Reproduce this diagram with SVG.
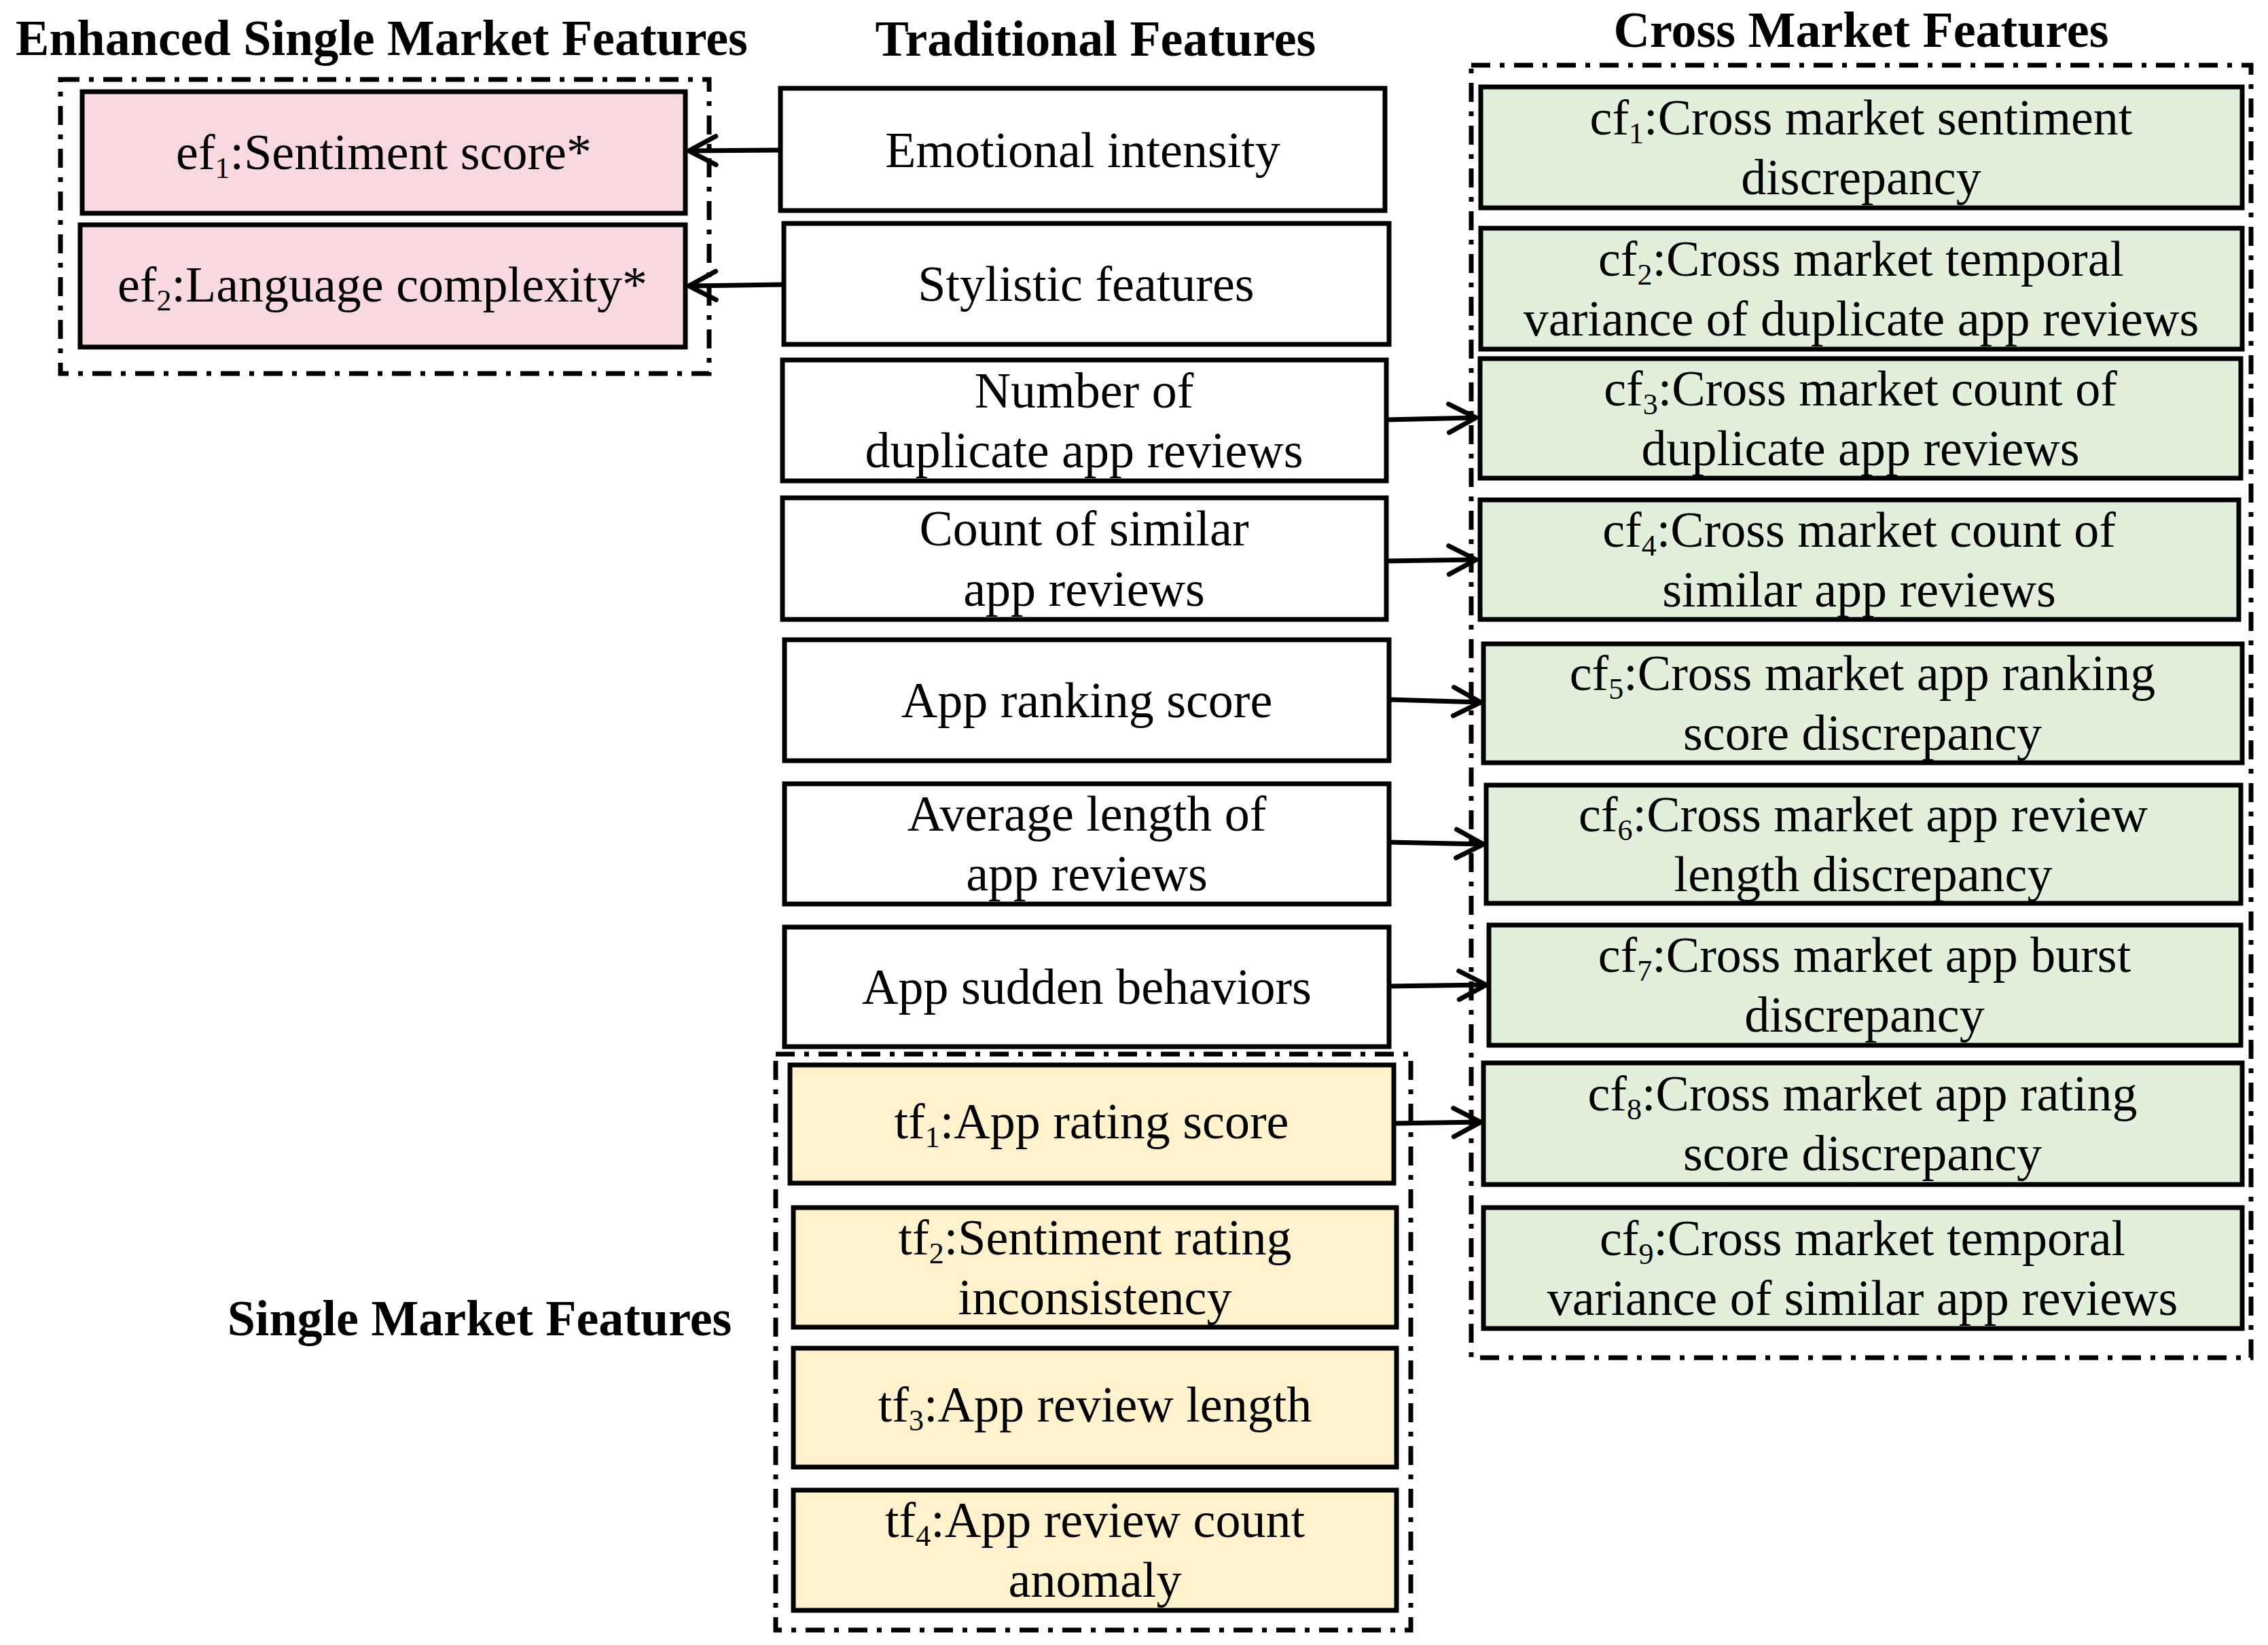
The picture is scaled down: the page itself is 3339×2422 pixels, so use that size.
<svg xmlns="http://www.w3.org/2000/svg" width="3339" height="2422" viewBox="0 0 3339 2422">
<style>
text{font-family:"Liberation Serif","Times New Roman",serif;font-size:74px;fill:#000;text-anchor:middle}
.title{font-weight:bold}
.box{stroke:#000;stroke-width:7}
.plain{fill:#fff}
.pink{fill:#F7D9DF}
.green{fill:#E2EFDA}
.yellow{fill:#FFF2CC}
.grp{fill:none;stroke:#000;stroke-width:7;stroke-dasharray:28 14 7 14}
.sub{font-size:44px}
.conn{fill:none;stroke:#000;stroke-width:7}
</style>
<defs>
<marker id="arr" markerUnits="userSpaceOnUse" markerWidth="80" markerHeight="80" viewBox="-50 -40 60 80" refX="0" refY="0" orient="auto" overflow="visible">
<path d="M-40,-21 L0,0 L-40,21" fill="none" stroke="#000" stroke-width="7" stroke-linecap="round"/>
</marker>
</defs>
<rect width="3339" height="2422" fill="#fff"/>

<g id="titles">
<text class="title" x="562" y="81">Enhanced Single Market Features</text>
<text class="title" x="1613" y="82">Traditional Features</text>
<text class="title" x="2740" y="69">Cross Market Features</text>
<text class="title" x="706" y="1966">Single Market Features</text>
</g>

<g id="groups">
<rect id="enhanced-group" class="grp" x="89" y="117" width="955" height="433"/>
<rect id="single-group" class="grp" x="1142" y="1552" width="935" height="848"/>
<rect id="cross-group" class="grp" x="2166" y="96" width="1148" height="1903"/>
</g>

<g id="ef1"><rect class="box pink" x="121" y="135" width="888" height="179"/>
<text x="565" y="249">ef<tspan class="sub" dy="13">1</tspan><tspan dy="-13">:Sentiment score*</tspan></text></g>
<g id="ef2"><rect class="box pink" x="118" y="331" width="891" height="180"/>
<text x="563" y="444">ef<tspan class="sub" dy="13">2</tspan><tspan dy="-13">:Language complexity*</tspan></text></g>

<g id="t-emotional"><rect class="box plain" x="1149" y="130" width="890" height="180"/>
<text x="1594" y="246">Emotional intensity</text></g>
<g id="t-stylistic"><rect class="box plain" x="1154" y="329" width="891" height="178"/>
<text x="1599" y="443">Stylistic features</text></g>
<g id="t-number"><rect class="box plain" x="1152" y="530" width="889" height="178"/>
<text x="1596" y="600">Number of</text><text x="1596" y="688">duplicate app reviews</text></g>
<g id="t-count"><rect class="box plain" x="1152" y="733" width="889" height="179"/>
<text x="1596" y="803">Count of similar</text><text x="1596" y="892">app reviews</text></g>
<g id="t-ranking"><rect class="box plain" x="1155" y="942" width="890" height="178"/>
<text x="1600" y="1056">App ranking score</text></g>
<g id="t-average"><rect class="box plain" x="1155" y="1154" width="890" height="177"/>
<text x="1600" y="1223">Average length of</text><text x="1600" y="1311">app reviews</text></g>
<g id="t-sudden"><rect class="box plain" x="1155" y="1365" width="890" height="176"/>
<text x="1600" y="1478">App sudden behaviors</text></g>

<g id="tf1"><rect class="box yellow" x="1163" y="1568" width="889" height="174"/>
<text x="1607" y="1676">tf<tspan class="sub" dy="13">1</tspan><tspan dy="-13">:App rating score</tspan></text></g>
<g id="tf2"><rect class="box yellow" x="1168" y="1778" width="888" height="176"/>
<text x="1612" y="1847">tf<tspan class="sub" dy="13">2</tspan><tspan dy="-13">:Sentiment rating</tspan></text><text x="1612" y="1935">inconsistency</text></g>
<g id="tf3"><rect class="box yellow" x="1168" y="1985" width="888" height="175"/>
<text x="1612" y="2093">tf<tspan class="sub" dy="13">3</tspan><tspan dy="-13">:App review length</tspan></text></g>
<g id="tf4"><rect class="box yellow" x="1168" y="2194" width="888" height="177"/>
<text x="1612" y="2263">tf<tspan class="sub" dy="13">4</tspan><tspan dy="-13">:App review count</tspan></text><text x="1612" y="2351">anomaly</text></g>

<g id="cf1"><rect class="box green" x="2180" y="128" width="1121" height="178"/>
<text x="2740" y="198">cf<tspan class="sub" dy="13">1</tspan><tspan dy="-13">:Cross market sentiment</tspan></text><text x="2740" y="286">discrepancy</text></g>
<g id="cf2"><rect class="box green" x="2180" y="336" width="1121" height="178"/>
<text x="2740" y="406">cf<tspan class="sub" dy="13">2</tspan><tspan dy="-13">:Cross market temporal</tspan></text><text x="2740" y="494">variance of duplicate app reviews</text></g>
<g id="cf3"><rect class="box green" x="2179" y="528" width="1120" height="176"/>
<text x="2739" y="597">cf<tspan class="sub" dy="13">3</tspan><tspan dy="-13">:Cross market count of</tspan></text><text x="2739" y="685">duplicate app reviews</text></g>
<g id="cf4"><rect class="box green" x="2179" y="736" width="1117" height="176"/>
<text x="2737" y="805">cf<tspan class="sub" dy="13">4</tspan><tspan dy="-13">:Cross market count of</tspan></text><text x="2737" y="893">similar app reviews</text></g>
<g id="cf5"><rect class="box green" x="2184" y="948" width="1117" height="175"/>
<text x="2742" y="1016">cf<tspan class="sub" dy="13">5</tspan><tspan dy="-13">:Cross market app ranking</tspan></text><text x="2742" y="1104">score discrepancy</text></g>
<g id="cf6"><rect class="box green" x="2188" y="1156" width="1111" height="174"/>
<text x="2743" y="1224">cf<tspan class="sub" dy="13">6</tspan><tspan dy="-13">:Cross market app review</tspan></text><text x="2743" y="1312">length discrepancy</text></g>
<g id="cf7"><rect class="box green" x="2192" y="1362" width="1107" height="177"/>
<text x="2745" y="1431">cf<tspan class="sub" dy="13">7</tspan><tspan dy="-13">:Cross market app burst</tspan></text><text x="2745" y="1519">discrepancy</text></g>
<g id="cf8"><rect class="box green" x="2184" y="1565" width="1117" height="179"/>
<text x="2742" y="1635">cf<tspan class="sub" dy="13">8</tspan><tspan dy="-13">:Cross market app rating</tspan></text><text x="2742" y="1723">score discrepancy</text></g>
<g id="cf9"><rect class="box green" x="2184" y="1778" width="1117" height="178"/>
<text x="2742" y="1848">cf<tspan class="sub" dy="13">9</tspan><tspan dy="-13">:Cross market temporal</tspan></text><text x="2742" y="1936">variance of similar app reviews</text></g>

<g id="connectors">
<line class="conn" x1="1149" y1="221" x2="1014" y2="222" marker-end="url(#arr)"/>
<line class="conn" x1="1154" y1="419" x2="1014" y2="421" marker-end="url(#arr)"/>
<line class="conn" x1="2041" y1="618" x2="2173" y2="615" marker-end="url(#arr)"/>
<line class="conn" x1="2041" y1="826" x2="2173" y2="824" marker-end="url(#arr)"/>
<line class="conn" x1="2045" y1="1030" x2="2180" y2="1034" marker-end="url(#arr)"/>
<line class="conn" x1="2045" y1="1240" x2="2184" y2="1243" marker-end="url(#arr)"/>
<line class="conn" x1="2045" y1="1452" x2="2188" y2="1450" marker-end="url(#arr)"/>
<line class="conn" x1="2052" y1="1654" x2="2180" y2="1652" marker-end="url(#arr)"/>
</g>
</svg>
